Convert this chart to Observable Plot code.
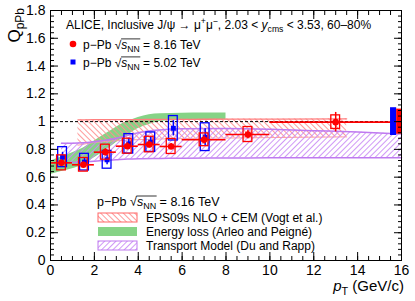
<!DOCTYPE html>
<html><head><meta charset="utf-8">
<script src="https://cdn.jsdelivr.net/npm/d3@7"></script>
<script src="https://cdn.jsdelivr.net/npm/@observablehq/plot@0.6"></script>
<style>
body{margin:0;background:#fff}
svg{font-family:"Liberation Sans",Arial,Helvetica,sans-serif}
</style>
</head><body><div id="chart"></div>
<script>
// ---------- data: p-Pb 8.16 TeV (red) ----------
const pt816 = [0.5, 1.5, 2.5, 3.5, 4.5, 5.5, 7, 9, 13];
const ptLow816 = [0, 1, 2, 3, 4, 5, 6, 8, 10];
const ptHigh816 = [1, 2, 3, 4, 5, 6, 8, 10, 16];
const q816 = [0.703, 0.689, 0.78, 0.823, 0.835, 0.821, 0.869, 0.907, 0.996];
const stat816 = [0.02, 0.02, 0.025, 0.025, 0.025, 0.022, 0.03, 0.03, 0.07];
const sys816 = [0.054, 0.049, 0.054, 0.054, 0.056, 0.054, 0.046, 0.054, 0.049];
const globalSys816 = 0.09;

// ---------- data: p-Pb 5.02 TeV (blue) ----------
const pt502 = [0.55, 1.55, 2.58, 3.57, 4.57, 5.6, 7.05];
const q502 = [0.744, 0.708, 0.725, 0.84, 0.852, 0.952, 0.888];
const stat502 = [0.035, 0.03, 0.035, 0.04, 0.04, 0.055, 0.06];
const sys502 = [0.072, 0.06, 0.064, 0.07, 0.07, 0.088, 0.1];
const globalSys502 = 0.1;

// ---------- models ----------
const epsPt = [1.25, 2, 3, 4, 5, 7, 10, 13.5];
const epsLow = [0.83, 0.85, 0.862, 0.87, 0.875, 0.88, 0.885, 0.89];
const epsHigh = [1.012, 1.014, 1.015, 1.015, 1.016, 1.017, 1.018, 1.02];

const elossPt = [0, 0.5, 1, 1.5, 2, 2.5, 3, 3.5, 4, 4.5, 5, 6, 7, 8];
const elossLow = [0.62, 0.64, 0.66, 0.69, 0.74, 0.79, 0.85, 0.9, 0.95, 0.98, 1.0, 1.01, 1.015, 1.015];
const elossHigh = [0.715, 0.745, 0.775, 0.81, 0.86, 0.91, 0.96, 1.0, 1.03, 1.05, 1.056, 1.06, 1.062, 1.062];

const trPt = [0.5, 1, 1.5, 2, 2.5, 3, 3.5, 4, 5, 6, 8, 10, 12, 14, 16];
const trLow = [0.70, 0.705, 0.71, 0.715, 0.72, 0.725, 0.73, 0.733, 0.735, 0.737, 0.738, 0.739, 0.74, 0.74, 0.74];
const trHigh = [0.845, 0.845, 0.847, 0.855, 0.865, 0.88, 0.9, 0.92, 0.94, 0.948, 0.95, 0.945, 0.935, 0.925, 0.91];

// ---------- ticks ----------
const xMajor = [0, 2, 4, 6, 8, 10, 12, 14, 16];
const xTickLabels = ["0", "2", "4", "6", "8", "10", "12", "14", "16"];
const yMajor = [0, 0.2, 0.4, 0.6, 0.8, 1, 1.2, 1.4, 1.6, 1.8];
const yTickLabels = ["0", "0.2", "0.4", "0.6", "0.8", "1", "1.2", "1.4", "1.6", "1.8"];
const xMinor = d3.range(0, 16.001, 0.5);
const yMinor = d3.range(0, 1.8001, 0.04);

// ---------- tables ----------
const red = pt816.map((x, i) => ({pt: x, lo: ptLow816[i], hi: ptHigh816[i], q: q816[i], stat: stat816[i], sys: sys816[i]}));
const blue = pt502.map((x, i) => ({pt: x, q: q502[i], stat: stat502[i], sys: sys502[i]}));
const eps = epsPt.map((x, i) => ({pt: x, lo: epsLow[i], hi: epsHigh[i]}));
const eloss = elossPt.map((x, i) => ({pt: x, lo: elossLow[i], hi: elossHigh[i]}));
const tr = trPt.map((x, i) => ({pt: x, lo: trLow[i], hi: trHigh[i]}));

const RED = "#ff0000", BLUE = "#0000ff", GREEN = "#86d386";
const VIOLET = "#bf7af0", PINK = "#ff7f7f";
const BOXW = 0.2;             // half width of systematic boxes (GeV/c)
const glob502X = [15.5, 15.78], glob816X = [15.78, 16];
const unityX = [0, 15.5];
const curve = "monotone-x";
const noLabel = () => "";

const chart = Plot.plot({
  width: 415, height: 301,
  marginLeft: 50, marginRight: 14, marginTop: 10, marginBottom: 41,
  x: {domain: [0, 16]},
  y: {domain: [0, 1.8]},
  style: {fontFamily: '"Liberation Sans",Arial,sans-serif', fontSize: "14px", color: "#000", background: "#fff", overflow: "visible"},
  marks: [
    Plot.areaY(eloss, {x: "pt", y1: "lo", y2: "hi", fill: GREEN, curve}),
    Plot.areaY(eps, {x: "pt", y1: "lo", y2: "hi", fill: "url(#hatchRed)", curve}),
    Plot.lineY(eps, {x: "pt", y: "hi", stroke: PINK, strokeWidth: 1.3, curve}),
    Plot.lineY(eps, {x: "pt", y: "lo", stroke: "#ffa0a0", strokeWidth: 1, curve}),
    Plot.areaY(tr, {x: "pt", y1: "lo", y2: "hi", fill: "url(#hatchViolet)", curve}),
    Plot.lineY(tr, {x: "pt", y: "hi", stroke: VIOLET, strokeWidth: 1.5, curve}),
    Plot.lineY(tr, {x: "pt", y: "lo", stroke: VIOLET, strokeWidth: 1.5, curve}),
    Plot.ruleY([1], {x1: unityX[0], x2: unityX[1], stroke: "#000", strokeWidth: 1, strokeDasharray: "3,2"}),

    Plot.rect(blue, {x1: d => d.pt - BOXW, x2: d => d.pt + BOXW, y1: d => d.q - d.sys, y2: d => d.q + d.sys, fill: "none", stroke: BLUE, strokeWidth: 1.3}),
    Plot.ruleX(blue, {x: "pt", y1: d => d.q - d.stat, y2: d => d.q + d.stat, stroke: BLUE, strokeWidth: 1.5}),
    Plot.dot(blue, {x: "pt", y: "q", symbol: "square", r: 2.8, fill: BLUE, stroke: null}),

    Plot.rect(red, {x1: d => d.pt - BOXW, x2: d => d.pt + BOXW, y1: d => d.q - d.sys, y2: d => d.q + d.sys, fill: "none", stroke: RED, strokeWidth: 1.3}),
    Plot.ruleY(red, {y: "q", x1: "lo", x2: "hi", stroke: RED, strokeWidth: 1.6}),
    Plot.ruleX(red, {x: "pt", y1: d => d.q - d.stat, y2: d => d.q + d.stat, stroke: RED, strokeWidth: 1.5}),
    Plot.dot(red, {x: "pt", y: "q", r: 3.3, fill: RED, stroke: null}),

    Plot.rect([globalSys502], {x1: glob502X[0], x2: glob502X[1], y1: d => 1 - d, y2: d => 1 + d, fill: BLUE}),
    Plot.rect([globalSys816], {x1: glob816X[0], x2: glob816X[1], y1: d => 1 - d, y2: d => 1 + d, fill: RED}),

    // ROOT-style inward ticks on all four sides
    Plot.axisX(xMajor, {anchor: "bottom", tickSize: -8, tickFormat: noLabel, label: null}),
    Plot.axisX(xMinor, {anchor: "bottom", tickSize: -4, tickFormat: noLabel, label: null}),
    Plot.axisX(xMajor, {anchor: "top", tickSize: -8, tickFormat: noLabel, label: null}),
    Plot.axisX(xMinor, {anchor: "top", tickSize: -4, tickFormat: noLabel, label: null}),
    Plot.axisY(yMajor, {anchor: "left", tickSize: -8, tickFormat: noLabel, label: null}),
    Plot.axisY(yMinor, {anchor: "left", tickSize: -4, tickFormat: noLabel, label: null}),
    Plot.axisY(yMajor, {anchor: "right", tickSize: -8, tickFormat: noLabel, label: null}),
    Plot.axisY(yMinor, {anchor: "right", tickSize: -4, tickFormat: noLabel, label: null}),
    Plot.axisX(xMajor, {anchor: "bottom", tickSize: 0, tickPadding: 5, fontSize: 14, tickFormat: d => xTickLabels[xMajor.indexOf(d)], label: null}),
    Plot.axisY(yMajor, {anchor: "left", tickSize: 0, tickPadding: 5, fontSize: 14, tickFormat: d => yTickLabels[yMajor.indexOf(d)], label: null}),
    Plot.frame({stroke: "#000", strokeWidth: 1})
  ]
});
document.getElementById("chart").appendChild(chart);

const svg = d3.select(chart);
svg.insert("defs", ":first-child").html(`
  <pattern id="hatchRed" patternUnits="userSpaceOnUse" width="4" height="4" patternTransform="rotate(-45)">
    <line x1="0.5" y1="0" x2="0.5" y2="4" stroke="#ff8f8f" stroke-width="0.9"/>
  </pattern>
  <pattern id="hatchViolet" patternUnits="userSpaceOnUse" width="4" height="4" patternTransform="rotate(45)">
    <line x1="0.5" y1="0" x2="0.5" y2="4" stroke="#c98cf5" stroke-width="0.9"/>
  </pattern>`);

const ann = svg.append("g").attr("fill", "#000");

function rich(x, y, parts, size, anchor) {
  const t = ann.append("text").attr("x", x).attr("y", y).attr("font-size", size).attr("text-anchor", anchor || "start");
  let shift = 0;
  const nodes = {};
  for (const p of parts) {
    const ts = t.append("tspan").text(p.t);
    const target = p.sub ? 0.25 * size : p.sup ? -0.38 * size : 0;
    if (target !== shift) ts.attr("dy", target - shift);
    shift = target;
    if (p.sub || p.sup) ts.attr("font-size", size * 0.72);
    if (p.it) ts.attr("font-style", "italic");
    if (p.key) nodes[p.key] = ts.node();
  }
  return {t, nodes};
}
function sqrtLabel(x, y, size, energy) {
  const r = rich(x, y, [
    {t: "p\u2212Pb "}, {t: "\u221A", key: "rad"}, {t: "s", it: 1, key: "s"}, {t: "NN", sub: 1, key: "nn"}, {t: " = " + energy + " TeV"}
  ], size);
  const rb = r.nodes.rad.getBBox(), nb = r.nodes.nn.getBBox();
  const x0 = rb.x + rb.width - 0.6, x1 = nb.x + nb.width + 0.5;
  const yy = y - 0.8 * size;
  ann.append("line").attr("x1", x0).attr("x2", x1).attr("y1", yy).attr("y2", yy).attr("stroke", "#000").attr("stroke-width", 0.8);
}

// top legend
rich(66, 29, [
  {t: "ALICE, Inclusive J/\u03C8 \u2192 \u03BC"}, {t: "+", sup: 1}, {t: "\u03BC"}, {t: "\u2212", sup: 1},
  {t: ", 2.03 < "}, {t: "y", it: 1}, {t: "cms", sub: 1}, {t: " < 3.53, 60\u201380%"}
], 12);
ann.append("circle").attr("cx", 73).attr("cy", 44).attr("r", 3.3).attr("fill", RED);
sqrtLabel(83, 48.5, 12, "8.16");
ann.append("rect").attr("x", 70.5).attr("y", 59.5).attr("width", 5).attr("height", 5).attr("fill", BLUE);
sqrtLabel(83, 66.5, 12, "5.02");

// bottom legend
sqrtLabel(97, 206, 12.5, "8.16");
const sw = [
  {y: 213, fill: "url(#hatchRed)", stroke: "#ff6666", txt: "EPS09s NLO + CEM (Vogt et al.)"},
  {y: 227, fill: GREEN, stroke: "none", txt: "Energy loss (Arleo and Peign\u00E9)"},
  {y: 241, fill: "url(#hatchViolet)", stroke: VIOLET, txt: "Transport Model (Du and Rapp)"}
];
for (const s of sw) {
  ann.append("rect").attr("x", 98).attr("y", s.y).attr("width", 39).attr("height", 9)
    .attr("fill", s.fill).attr("stroke", s.stroke).attr("stroke-width", 1);
  rich(146, s.y + 9, [{t: s.txt}], 12);
}

// axis titles
rich(404, 291, [{t: "p", it: 1}, {t: "T", sub: 1}, {t: " (GeV/c)"}], 15, "end");
const yt = ann.append("text").attr("transform", "translate(20,8) rotate(-90)").attr("text-anchor", "end").attr("font-size", 17);
yt.append("tspan").text("Q");
yt.append("tspan").attr("dy", 4).attr("font-size", 12).text("pPb");
</script>
</body></html>
